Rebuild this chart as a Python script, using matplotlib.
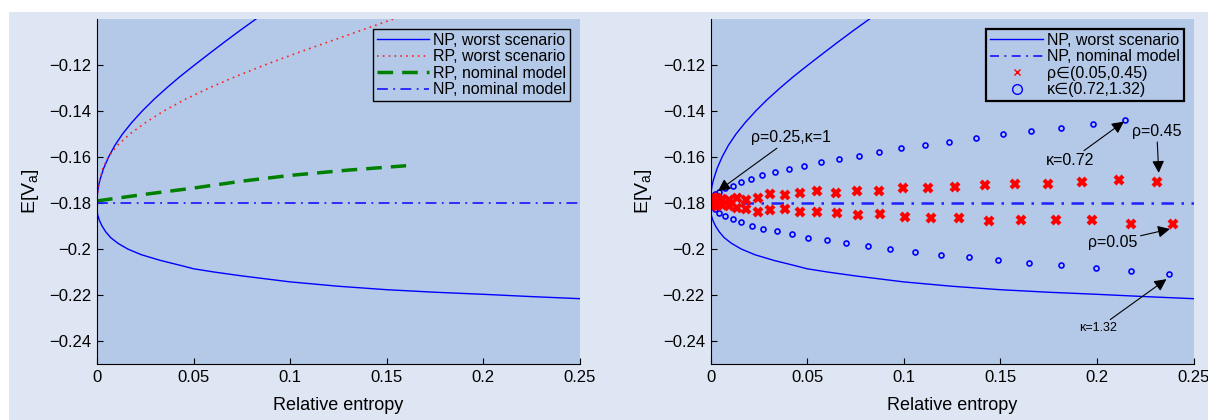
import matplotlib
matplotlib.use('Agg')
import matplotlib.pyplot as plt
from matplotlib.lines import Line2D
from matplotlib.patches import Rectangle

plt.rcParams['font.family'] = ['Liberation Sans', 'DejaVu Sans']
plt.rcParams['mathtext.default'] = 'regular'

# NP, worst scenario (one curve: lower branch then upper branch)
np_worst_x = [0.25, 0.225, 0.2, 0.175, 0.15, 0.125, 0.1, 0.075, 0.0605, 0.05, 0.045, 0.033, 0.023,
              0.0159, 0.0108, 0.007, 0.0045, 0.0026, 0.0012, 0.0003, 0.00007, 0.0,
              0.00009, 0.00035, 0.0008, 0.0015, 0.0034, 0.006, 0.0092, 0.0132, 0.018, 0.0234, 0.0294,
              0.036, 0.043, 0.0505, 0.0582, 0.066, 0.074, 0.0823]
np_worst_y = [-0.2216, -0.2207, -0.2197, -0.2188, -0.2177, -0.2162, -0.2143, -0.2117, -0.21, -0.2086,
              -0.2075, -0.205, -0.2025, -0.2, -0.1975, -0.195, -0.1925, -0.19, -0.1875, -0.185,
              -0.1825, -0.18,
              -0.1775, -0.175, -0.1725, -0.17, -0.165, -0.16, -0.155, -0.15, -0.145, -0.14, -0.135,
              -0.13, -0.125, -0.12, -0.115, -0.11, -0.105, -0.10]

# RP, worst scenario
rp_worst_x = [0.0, 0.0004, 0.0014, 0.003, 0.0058, 0.0105, 0.017, 0.0252, 0.0345, 0.0455, 0.058,
              0.0718, 0.0868, 0.1028, 0.1196, 0.1365, 0.1535]
rp_worst_y = [-0.178, -0.175, -0.17, -0.165, -0.16, -0.155, -0.15, -0.145, -0.14, -0.135, -0.13,
              -0.125, -0.12, -0.115, -0.11, -0.105, -0.10]

# RP, nominal model
rp_nom_x = [0.0, 0.025, 0.05, 0.075, 0.1, 0.13, 0.16]
rp_nom_y = [-0.1791, -0.1762, -0.1735, -0.1705, -0.168, -0.1657, -0.1638]

# NP, nominal model
np_nom_x = [0.0, 0.25]
np_nom_y = [-0.18, -0.18]

# kappa sweep (blue circles)
kappa_up_x = [0.0002, 0.001, 0.0023, 0.0046, 0.0075, 0.0115, 0.0156, 0.0208, 0.0267, 0.0332, 0.0405,
              0.0486, 0.057, 0.0665, 0.0767, 0.0874, 0.0988, 0.111, 0.1234, 0.1372, 0.1514, 0.166,
              0.1815, 0.198, 0.2147]
kappa_up_y = [-0.1795, -0.1775, -0.1761, -0.1751, -0.1736, -0.1725, -0.1708, -0.1694, -0.1678, -0.1666,
              -0.1652, -0.1637, -0.1623, -0.1608, -0.1594, -0.1578, -0.1563, -0.1549, -0.1533, -0.1517,
              -0.1502, -0.1488, -0.1472, -0.1457, -0.1441]
kappa_lo_x = [0.0004, 0.001, 0.0023, 0.0046, 0.0077, 0.0115, 0.0159, 0.0213, 0.0273, 0.0344, 0.0422,
              0.0506, 0.0601, 0.0703, 0.0813, 0.093, 0.1057, 0.1191, 0.1336, 0.1486, 0.1647, 0.1815,
              0.1993, 0.2178, 0.2373]
kappa_lo_y = [-0.1805, -0.1815, -0.1827, -0.1842, -0.1858, -0.1871, -0.1884, -0.1899, -0.1912, -0.1923,
              -0.1936, -0.195, -0.1961, -0.1974, -0.1987, -0.2, -0.2012, -0.2024, -0.2035, -0.2047,
              -0.206, -0.2071, -0.2083, -0.2095, -0.2108]

# rho sweep (red crosses)
rho_up_x = [0.0008, 0.0018, 0.0036, 0.0061, 0.0096, 0.0136, 0.0185, 0.0244, 0.031, 0.0384, 0.0462,
            0.0553, 0.0651, 0.0757, 0.0872, 0.0995, 0.1127, 0.1267, 0.1419, 0.1577, 0.1745, 0.1924,
            0.2112, 0.2311]
rho_up_y = [-0.1785, -0.1777, -0.1779, -0.1783, -0.1786, -0.178, -0.1787, -0.1778, -0.1762, -0.1764,
            -0.1758, -0.1749, -0.1756, -0.1748, -0.1748, -0.1736, -0.1733, -0.1729, -0.1723, -0.1717,
            -0.1716, -0.1707, -0.1698, -0.1707]
rho_lo_x = [0.0008, 0.0018, 0.0036, 0.0061, 0.0096, 0.0137, 0.0185, 0.0244, 0.031, 0.0384, 0.0462,
            0.0553, 0.0655, 0.0762, 0.0879, 0.1005, 0.1139, 0.1286, 0.1441, 0.1607, 0.1786, 0.1976,
            0.2178, 0.2395]
rho_lo_y = [-0.181, -0.1809, -0.1812, -0.181, -0.1815, -0.1823, -0.1826, -0.1841, -0.1829, -0.1828,
            -0.1841, -0.1839, -0.1842, -0.1854, -0.1848, -0.1862, -0.1864, -0.1865, -0.1877, -0.1876,
            -0.1876, -0.1876, -0.189, -0.1891]

bg = '#dfe6f3'
face = '#b4c9e8'

fig = plt.figure(figsize=(12.08, 4.2), dpi=100, facecolor='white')
fig.patches.append(Rectangle((9 / 1208, 0), 1, (420 - 12) / 420, transform=fig.transFigure,
                             facecolor=bg, edgecolor='none', zorder=-10))

ax1 = fig.add_axes([97 / 1208, 56 / 420, 483 / 1208, 345 / 420])
ax2 = fig.add_axes([710.5 / 1208, 56 / 420, 483 / 1208, 345 / 420])

ax1.plot(np_worst_x, np_worst_y, color='#0000ff', lw=1.0, label='NP, worst scenario')
ax1.plot(rp_worst_x, rp_worst_y, color='#ff2020', lw=1.2, ls=(0, (1, 2.5)), label='RP, worst scenario')
ax1.plot(rp_nom_x, rp_nom_y, color='#008000', lw=2.5, ls=(0, (4.5, 2.6)), label='RP, nominal model')
ax1.plot(np_nom_x, np_nom_y, color='#2020ff', lw=1.3, ls=(0, (6, 3, 1, 3)), label='NP, nominal model')

ax2.plot(np_worst_x, np_worst_y, color='#0000ff', lw=1.0)
ax2.plot(np_nom_x, np_nom_y, color='#2020ff', lw=1.8, ls=(0, (5, 3, 1, 3)))
ax2.plot(kappa_up_x, kappa_up_y, 'o', mfc='none', mec='#0000ff', ms=3.6, mew=1.2, ls='none')
ax2.plot(kappa_lo_x, kappa_lo_y, 'o', mfc='none', mec='#0000ff', ms=3.6, mew=1.2, ls='none')
ax2.plot(rho_up_x, rho_up_y, 'x', color='#ff0000', ms=5.5, mew=3.0, ls='none')
ax2.plot(rho_lo_x, rho_lo_y, 'x', color='#ff0000', ms=5.5, mew=3.0, ls='none')

for ax in (ax1, ax2):
    ax.set_facecolor(face)
    ax.set_xlim(0, 0.25)
    ax.set_ylim(-0.25, -0.10)
    ax.set_xticks([0, 0.05, 0.1, 0.15, 0.2, 0.25])
    ax.set_xticklabels(['0', '0.05', '0.1', '0.15', '0.2', '0.25'])
    ax.set_yticks([-0.24, -0.22, -0.2, -0.18, -0.16, -0.14, -0.12])
    ax.set_yticklabels(['\u22120.24', '\u22120.22', '\u22120.2', '\u22120.18', '\u22120.16',
                        '\u22120.14', '\u22120.12'])
    ax.spines['top'].set_visible(False)
    ax.spines['right'].set_visible(False)
    ax.tick_params(direction='in', length=4, width=0.8, labelsize=12, pad=4)
    ax.set_xlabel('Relative entropy', fontsize=13, labelpad=9)
    ax.set_ylabel('E[V$_a$]', fontsize=14, labelpad=6)

leg1 = ax1.legend(loc='upper right', fontsize=11.5, frameon=True, fancybox=False, edgecolor='black',
                  facecolor=face, framealpha=1, handlelength=3.3, handletextpad=0.25,
                  labelspacing=0.1, borderpad=0.25, borderaxespad=0.6)
leg1.get_frame().set_linewidth(1.0)

handles2 = [
    Line2D([], [], color='#0000ff', lw=1.0),
    Line2D([], [], color='#2020ff', lw=1.3, ls=(0, (5, 3, 1, 3))),
    Line2D([], [], marker='x', color='#ff0000', ms=5, mew=1.0, ls='none'),
    Line2D([], [], marker='o', mfc='none', mec='#0000ff', ms=7, mew=1.0, ls='none'),
]
labels2 = ['NP, worst scenario', 'NP, nominal model', '\u03c1\u2208(0.05,0.45)', '\u03ba\u2208(0.72,1.32)']
leg2 = ax2.legend(handles2, labels2, loc='upper right', fontsize=11.5, frameon=True, fancybox=False,
                  edgecolor='black', facecolor=face, framealpha=1, handlelength=3.3,
                  handletextpad=0.25, labelspacing=0.1, borderpad=0.25, borderaxespad=0.6)
leg2.get_frame().set_linewidth(1.6)

arrow = dict(arrowstyle='-|>', color='black', lw=0.8, mutation_scale=18, shrinkA=0, shrinkB=0)
ax2.annotate('\u03c1=0.25,\u03ba=1', xy=(0.0039, -0.1748), xytext=(0.021, -0.1517),
             fontsize=11.5, ha='left', va='center', arrowprops=arrow)
ax2.annotate('\u03ba=0.72', xy=(0.214, -0.1446), xytext=(0.186, -0.1617),
             fontsize=11.5, ha='center', va='center', arrowprops=arrow)
ax2.annotate('\u03c1=0.45', xy=(0.232, -0.1669), xytext=(0.231, -0.149),
             fontsize=11.5, ha='center', va='center', arrowprops=arrow)
ax2.annotate('\u03c1=0.05', xy=(0.2378, -0.1913), xytext=(0.2084, -0.197),
             fontsize=11.5, ha='center', va='center', arrowprops=arrow)
ax2.annotate('\u03ba=1.32', xy=(0.236, -0.2131), xytext=(0.2006, -0.2345),
             fontsize=9, ha='center', va='center', arrowprops=arrow)

fig.savefig('out.png', dpi=100, facecolor=fig.get_facecolor())
